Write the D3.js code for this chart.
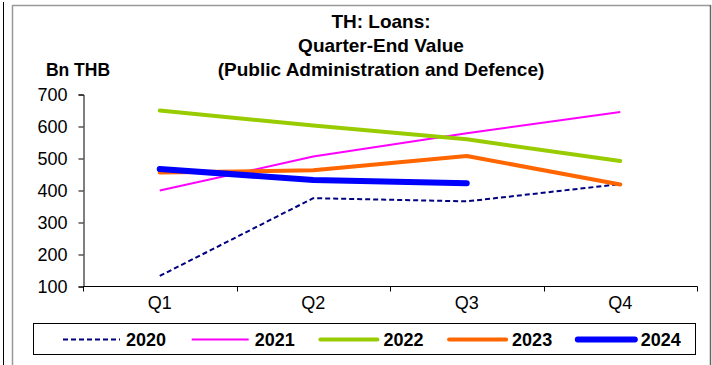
<!DOCTYPE html>
<html>
<head>
<meta charset="utf-8">
<title>TH: Loans</title>
<script src="https://cdn.jsdelivr.net/npm/d3@7"></script>
<style>
body { margin: 0; background: #fff; }
svg { display: block; font-family: "Liberation Sans", Arial, sans-serif; }
</style>
</head>
<body>
<div id="chart"></div>
<script>
var quarters = ["Q1", "Q2", "Q3", "Q4"];
var years = ["2020", "2021", "2022", "2023", "2024"];
var v2020 = [133, 376, 366, 420];
var v2021 = [400, 506, 579, 645];
var v2022 = [650, 603, 560, 492];
var v2023 = [456, 463, 508, 419];
var v2024 = [467, 433, 423];
var yTicks = [100, 200, 300, 400, 500, 600, 700];

var series = [
    { name: years[0], values: v2020, color: "#000080", width: 2, dash: "5,3" },
    { name: years[1], values: v2021, color: "#FF00FF", width: 2, dash: null },
    { name: years[2], values: v2022, color: "#99CC00", width: 4, dash: null },
    { name: years[3], values: v2023, color: "#FF6600", width: 4, dash: null },
    { name: years[4], values: v2024, color: "#0000FF", width: 6, dash: null }
];

var W = 712, H = 365;

var svg = d3.select('#chart').append('svg')
    .attr('width', W)
    .attr('height', H);

// outer frames
svg.append('line').attr('x1', 3.5).attr('x2', 3.5).attr('y1', 2).attr('y2', H)
    .attr('stroke', '#000').attr('stroke-width', 1);
svg.append('line').attr('x1', 12.5).attr('x2', 711).attr('y1', 5.5).attr('y2', 5.5)
    .attr('stroke', '#999').attr('stroke-width', 1.5);
svg.append('line').attr('x1', 12.5).attr('x2', 12.5).attr('y1', 5).attr('y2', H)
    .attr('stroke', '#999').attr('stroke-width', 1.5);
svg.append('line').attr('x1', 710.5).attr('x2', 710.5).attr('y1', 5).attr('y2', H)
    .attr('stroke', '#666').attr('stroke-width', 1.5);

var x = d3.scaleBand()
    .domain(quarters)
    .range([83, 697]);
var y = d3.scaleLinear()
    .domain([100, 700])
    .range([286.5, 94.5]);

// title
var title = ["TH: Loans:", "Quarter-End Value", "(Public Administration and Defence)"];
svg.append('g').selectAll('text')
    .data(title)
  .enter().append('text')
    .attr('x', 381)
    .attr('y', (d, i) => 28 + i * 24)
    .attr('text-anchor', 'middle')
    .attr('font-size', 19)
    .attr('font-weight', 'bold')
    .text(d => d);

svg.append('text')
    .attr('x', 78)
    .attr('y', 76)
    .attr('text-anchor', 'middle')
    .attr('font-size', 17.5)
    .attr('font-weight', 'bold')
    .text('Bn THB');

// axes
var yAxis = d3.axisLeft(y)
    .tickValues(yTicks)
    .tickSize(5)
    .tickPadding(11);
var gy = svg.append('g')
    .attr('transform', 'translate(83.5,0)')
    .call(yAxis);
gy.selectAll('text').attr('font-size', 18).attr('fill', '#000').attr('font-family', '"Liberation Sans", Arial, sans-serif');

var gx = svg.append('g')
    .attr('transform', 'translate(0,286.5)');
gx.append('line')
    .attr('x1', 83).attr('x2', 697.5)
    .attr('stroke', '#000');
gx.selectAll('.tick')
    .data(quarters.concat(['end']))
  .enter().append('line')
    .attr('x1', (d, i) => Math.round(83 + i * x.bandwidth()) + 0.5)
    .attr('x2', (d, i) => Math.round(83 + i * x.bandwidth()) + 0.5)
    .attr('y1', 0).attr('y2', 5)
    .attr('stroke', '#000');
gx.selectAll('text')
    .data(quarters)
  .enter().append('text')
    .attr('x', d => x(d) + x.bandwidth() / 2)
    .attr('y', 22)
    .attr('text-anchor', 'middle')
    .attr('font-size', 18)
    .text(d => d);

// lines
var line = d3.line()
    .x((d, i) => x(quarters[i]) + x.bandwidth() / 2)
    .y(d => y(d));

svg.append('g').selectAll('path')
    .data(series)
  .enter().append('path')
    .attr('d', d => line(d.values))
    .attr('fill', 'none')
    .attr('stroke', d => d.color)
    .attr('stroke-width', d => d.width)
    .attr('stroke-dasharray', d => d.dash)
    .attr('stroke-linejoin', 'round')
    .attr('stroke-linecap', d => d.width >= 4 ? 'round' : 'butt');

// legend
svg.append('rect')
    .attr('x', 33.5).attr('y', 323.5)
    .attr('width', 662).attr('height', 31)
    .attr('fill', '#fff')
    .attr('stroke', '#000');

var leg = svg.append('g').selectAll('g')
    .data(series)
  .enter().append('g')
    .attr('transform', (d, i) => 'translate(' + (63 + i * 128.7) + ',339.5)');
leg.append('line')
    .attr('x1', 0).attr('x2', 57)
    .attr('stroke', d => d.color)
    .attr('stroke-width', d => d.width)
    .attr('stroke-dasharray', d => d.dash)
    .attr('stroke-linecap', d => d.width >= 4 ? 'round' : 'butt');
leg.append('text')
    .attr('x', 63)
    .attr('y', 6.5)
    .attr('font-size', 18)
    .attr('font-weight', 'bold')
    .text(d => d.name);
</script>
</body>
</html>
